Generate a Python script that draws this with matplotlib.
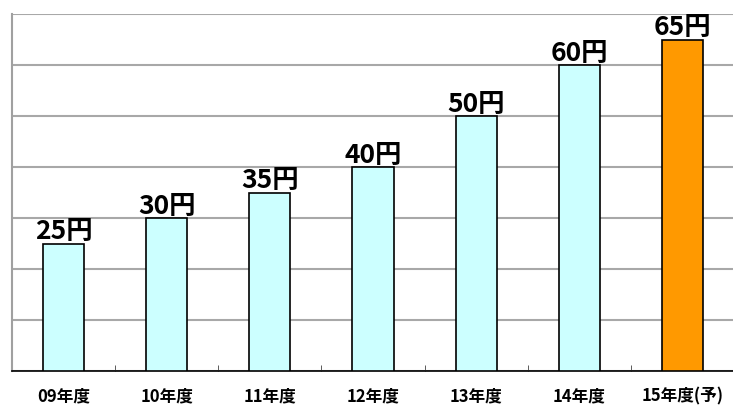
import matplotlib
matplotlib.use('Agg')
import matplotlib.pyplot as plt
import numpy as np

plt.rcParams['font.family'] = ['Noto Sans CJK JP', 'DejaVu Sans']

years = ['09年度', '10年度', '11年度', '12年度', '13年度', '14年度', '15年度(予)']
values = [25, 30, 35, 40, 50, 60, 65]
colors = ['#CCFFFF'] * 6 + ['#FF9900']

fig = plt.figure(figsize=(7.33, 4.06), dpi=100)
ax = fig.add_axes([12 / 733, 34 / 406, 722 / 733, 357 / 406])

x = np.arange(len(years))
bars = ax.bar(x, values, width=0.4, color=colors, edgecolor='black', linewidth=1.2, zorder=3)

for xi, v in zip(x, values):
    ax.text(xi, v - 0.1, f'{v}円', ha='center', va='bottom', fontsize=19,
            fontweight='bold', zorder=4)

ax.set_xlim(-0.5, len(years) - 0.5)
ax.set_ylim(0, 70)
ax.set_yticks(np.arange(0, 71, 10))
ax.yaxis.grid(True, color='#A8A8A8', linewidth=1.5, zorder=0)
ax.tick_params(axis='y', left=False, labelleft=False)

# category boundary ticks on the bottom axis
ax.set_xticks(x)
ax.set_xticklabels(years, fontsize=12, fontweight='bold')
ax.tick_params(axis='x', length=0, pad=11)
ax.set_xticks(np.arange(0.5, len(years) - 0.5, 1), minor=True)
ax.tick_params(axis='x', which='minor', direction='in', length=4, color='#404040')

ax.spines['top'].set_visible(False)
ax.spines['right'].set_visible(False)
ax.spines['left'].set_color('#A0A0A0')
ax.spines['left'].set_linewidth(1.5)
ax.spines['bottom'].set_color('black')
ax.spines['bottom'].set_linewidth(1.2)

fig.savefig('out.png', dpi=100)
